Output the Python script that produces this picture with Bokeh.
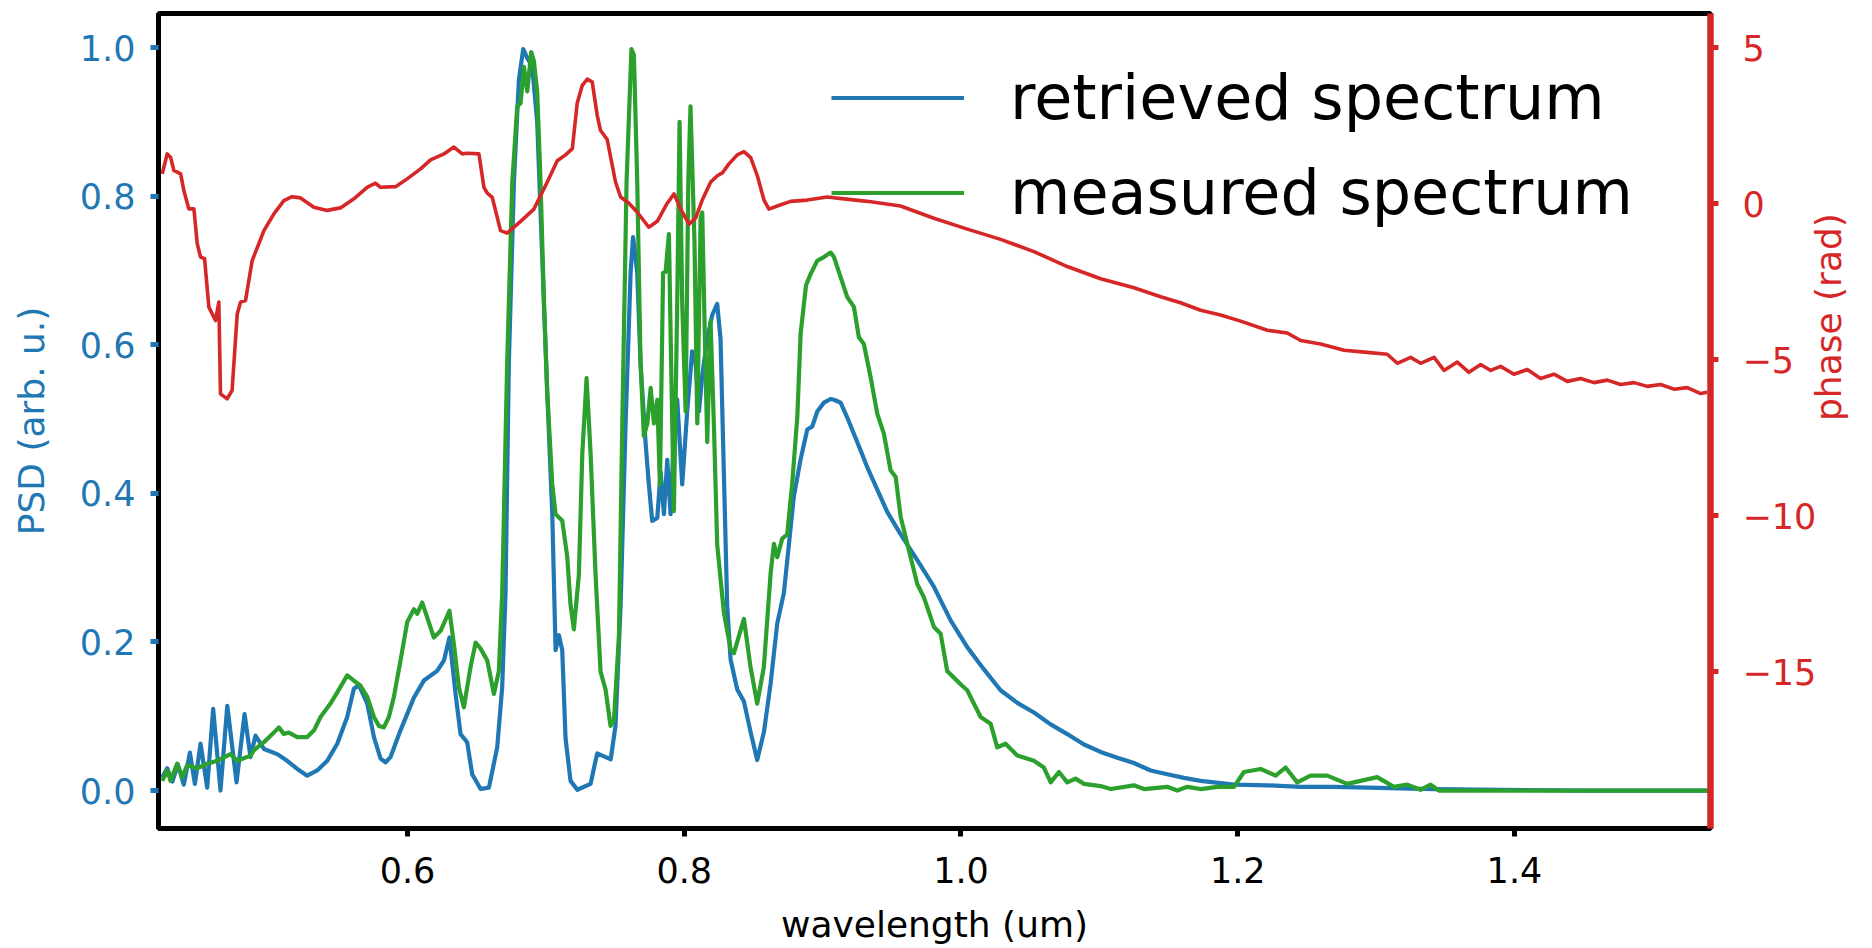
import math
from bokeh.plotting import figure
from bokeh.models import Range1d, LinearAxis, FixedTicker, Legend, LegendItem, PrintfTickFormatter
from bokeh.embed import file_html
from bokeh.resources import INLINE

# ---------------- data ----------------
wl_retrieved = [0.4227, 0.4263, 0.4300, 0.4340, 0.4383, 0.4427, 0.4463, 0.4504, 0.4552, 0.4595,
                0.4648, 0.4697, 0.4764, 0.4822, 0.4865, 0.4901, 0.4962, 0.5058, 0.5130, 0.5203,
                0.5275, 0.5347, 0.5420, 0.5492, 0.5564, 0.5612, 0.5648, 0.5709, 0.5757, 0.5805,
                0.5841, 0.5877, 0.5949, 0.6046, 0.6118, 0.6214, 0.6263, 0.6303, 0.6347, 0.6383,
                0.6431, 0.6467, 0.6528, 0.6588, 0.6648, 0.6684, 0.6708, 0.6732, 0.6769, 0.6805,
                0.6836, 0.6865, 0.6901, 0.6937, 0.6973, 0.7010, 0.7046, 0.7070, 0.7094, 0.7118,
                0.7142, 0.7178, 0.7227, 0.7323, 0.7347, 0.7371, 0.7420, 0.7468, 0.7503, 0.7540,
                0.7576, 0.7612, 0.7630, 0.7660, 0.7684, 0.7720, 0.7744, 0.7768, 0.7805, 0.7829,
                0.7853, 0.7877, 0.7901, 0.7925, 0.7949, 0.7985, 0.8021, 0.8057, 0.8082, 0.8106,
                0.8130, 0.8166, 0.8202, 0.8238, 0.8262, 0.8286, 0.8310, 0.8335, 0.8383, 0.8431,
                0.8479, 0.8527, 0.8576, 0.8624, 0.8672, 0.8720, 0.8756, 0.8792, 0.8840, 0.8889,
                0.8925, 0.8961, 0.9009, 0.9058, 0.9082, 0.9130, 0.9178, 0.9250, 0.9323, 0.9395,
                0.9467, 0.9563, 0.9684, 0.9805, 0.9925, 1.0045, 1.0166, 1.0286, 1.0407, 1.0527,
                1.0648, 1.0768, 1.0889, 1.1009, 1.1130, 1.1250, 1.1371, 1.1491, 1.1611, 1.1732,
                1.1973, 1.2214, 1.2455, 1.2696, 1.2937, 1.3178, 1.3419, 1.3900, 1.4500, 1.5418]
psd_retrieved = [0.018, 0.030, 0.012, 0.035, 0.008, 0.051, 0.009, 0.063, 0.004, 0.110,
                 0.000, 0.114, 0.011, 0.103, 0.045, 0.074, 0.056, 0.049, 0.040, 0.029,
                 0.020, 0.027, 0.040, 0.063, 0.099, 0.137, 0.142, 0.117, 0.072, 0.043,
                 0.038, 0.045, 0.081, 0.125, 0.148, 0.161, 0.175, 0.206, 0.130, 0.076,
                 0.065, 0.022, 0.002, 0.004, 0.058, 0.139, 0.265, 0.575, 0.820, 0.957,
                 0.998, 0.986, 0.974, 0.900, 0.720, 0.534, 0.372, 0.189, 0.209, 0.189,
                 0.070, 0.013, 0.001, 0.009, 0.030, 0.050, 0.046, 0.042, 0.087, 0.250,
                 0.494, 0.697, 0.745, 0.697, 0.575, 0.469, 0.412, 0.363, 0.367, 0.429,
                 0.372, 0.445, 0.372, 0.477, 0.526, 0.412, 0.510, 0.591, 0.575, 0.510,
                 0.559, 0.608, 0.640, 0.655, 0.608, 0.429, 0.250, 0.176, 0.136, 0.120,
                 0.079, 0.041, 0.079, 0.144, 0.225, 0.266, 0.331, 0.396, 0.445, 0.486,
                 0.490, 0.510, 0.522, 0.527, 0.526, 0.522, 0.502, 0.469, 0.435, 0.405,
                 0.375, 0.345, 0.310, 0.274, 0.229, 0.193, 0.163, 0.135, 0.118, 0.105,
                 0.089, 0.076, 0.062, 0.052, 0.044, 0.037, 0.027, 0.022, 0.017, 0.013,
                 0.008, 0.007, 0.005, 0.005, 0.004, 0.003, 0.002, 0.001, 0.000, 0.000]

wl_measured = [0.4227, 0.4263, 0.4287, 0.4335, 0.4371, 0.4407, 0.4480, 0.4552, 0.4624, 0.4720,
               0.4769, 0.4865, 0.4889, 0.4962, 0.5034, 0.5070, 0.5106, 0.5142, 0.5203, 0.5275,
               0.5324, 0.5371, 0.5443, 0.5492, 0.5564, 0.5612, 0.5660, 0.5709, 0.5757, 0.5793,
               0.5829, 0.5865, 0.5901, 0.5949, 0.5998, 0.6046, 0.6070, 0.6106, 0.6142, 0.6190,
               0.6239, 0.6303, 0.6335, 0.6371, 0.6407, 0.6455, 0.6492, 0.6528, 0.6576, 0.6624,
               0.6660, 0.6684, 0.6720, 0.6757, 0.6793, 0.6817, 0.6841, 0.6865, 0.6894, 0.6913,
               0.6937, 0.6961, 0.6986, 0.7010, 0.7046, 0.7070, 0.7118, 0.7154, 0.7178, 0.7202,
               0.7238, 0.7263, 0.7294, 0.7323, 0.7359, 0.7395, 0.7431, 0.7467, 0.7492, 0.7528,
               0.7552, 0.7583, 0.7618, 0.7636, 0.7660, 0.7684, 0.7708, 0.7733, 0.7757, 0.7781,
               0.7805, 0.7824, 0.7847, 0.7865, 0.7889, 0.7905, 0.7925, 0.7949, 0.7966, 0.7985,
               0.8010, 0.8029, 0.8045, 0.8074, 0.8094, 0.8118, 0.8130, 0.8150, 0.8166, 0.8190,
               0.8214, 0.8238, 0.8286, 0.8335, 0.8359, 0.8431, 0.8479, 0.8527, 0.8575, 0.8624,
               0.8648, 0.8672, 0.8708, 0.8744, 0.8780, 0.8817, 0.8841, 0.8880, 0.8913, 0.8961,
               0.9009, 0.9058, 0.9082, 0.9130, 0.9178, 0.9226, 0.9262, 0.9298, 0.9347, 0.9395,
               0.9443, 0.9491, 0.9528, 0.9564, 0.9612, 0.9684, 0.9732, 0.9805, 0.9853, 0.9900,
               0.9997, 1.0045, 1.0142, 1.0214, 1.0262, 1.0322, 1.0407, 1.0527, 1.0599, 1.0648,
               1.0708, 1.0768, 1.0828, 1.0889, 1.1009, 1.1082, 1.1250, 1.1322, 1.1491, 1.1563,
               1.1636, 1.1732, 1.1852, 1.1973, 1.2045, 1.2166, 1.2274, 1.2346, 1.2430, 1.2526,
               1.2647, 1.2792, 1.3008, 1.3129, 1.3225, 1.3321, 1.3394, 1.3454, 1.5418]
psd_measured = [0.013, 0.027, 0.013, 0.036, 0.018, 0.034, 0.030, 0.036, 0.040, 0.049,
                0.040, 0.047, 0.054, 0.065, 0.078, 0.085, 0.076, 0.078, 0.072, 0.072,
                0.081, 0.099, 0.117, 0.132, 0.155, 0.148, 0.141, 0.126, 0.099, 0.087,
                0.085, 0.099, 0.126, 0.175, 0.227, 0.244, 0.238, 0.253, 0.233, 0.206,
                0.215, 0.242, 0.197, 0.139, 0.112, 0.166, 0.199, 0.191, 0.175, 0.130,
                0.161, 0.265, 0.575, 0.819, 0.921, 0.925, 0.974, 0.941, 0.994, 0.982,
                0.941, 0.820, 0.656, 0.534, 0.412, 0.372, 0.363, 0.315, 0.250, 0.217,
                0.290, 0.453, 0.555, 0.453, 0.290, 0.160, 0.136, 0.087, 0.095, 0.209,
                0.494, 0.820, 0.998, 0.990, 0.820, 0.575, 0.477, 0.494, 0.542, 0.494,
                0.526, 0.412, 0.697, 0.698, 0.749, 0.575, 0.376, 0.656, 0.900, 0.656,
                0.510, 0.820, 0.921, 0.738, 0.494, 0.770, 0.778, 0.600, 0.469, 0.632,
                0.493, 0.331, 0.240, 0.190, 0.185, 0.231, 0.166, 0.117, 0.166, 0.292,
                0.332, 0.314, 0.339, 0.345, 0.413, 0.503, 0.615, 0.680, 0.695, 0.713,
                0.718, 0.724, 0.718, 0.691, 0.664, 0.651, 0.610, 0.601, 0.556, 0.507,
                0.480, 0.431, 0.422, 0.368, 0.332, 0.278, 0.260, 0.220, 0.211, 0.161,
                0.143, 0.135, 0.099, 0.090, 0.058, 0.063, 0.047, 0.040, 0.031, 0.011,
                0.025, 0.011, 0.016, 0.009, 0.006, 0.002, 0.007, 0.002, 0.005, 0.000,
                0.005, 0.002, 0.005, 0.005, 0.025, 0.029, 0.020, 0.031, 0.011, 0.020,
                0.020, 0.009, 0.018, 0.005, 0.008, 0.001, 0.008, 0.000, 0.000]

wl_phase = [0.4227, 0.4263, 0.4287, 0.4311, 0.4360, 0.4383, 0.4419, 0.4456, 0.4480, 0.4504,
            0.4533, 0.4564, 0.4612, 0.4636, 0.4648, 0.4696, 0.4732, 0.4769, 0.4793, 0.4829,
            0.4877, 0.4962, 0.5034, 0.5106, 0.5166, 0.5226, 0.5323, 0.5419, 0.5515, 0.5612,
            0.5708, 0.5768, 0.5805, 0.5913, 0.5997, 0.6094, 0.6166, 0.6263, 0.6335, 0.6395,
            0.6431, 0.6516, 0.6552, 0.6576, 0.6612, 0.6672, 0.6720, 0.6817, 0.6913, 0.7010,
            0.7082, 0.7142, 0.7191, 0.7226, 0.7263, 0.7299, 0.7335, 0.7371, 0.7395, 0.7443,
            0.7503, 0.7540, 0.7600, 0.7660, 0.7744, 0.7805, 0.7877, 0.7926, 0.7974, 0.8034,
            0.8082, 0.8130, 0.8191, 0.8239, 0.8275, 0.8323, 0.8383, 0.8431, 0.8480, 0.8528,
            0.8576, 0.8612, 0.8672, 0.8768, 0.8889, 0.9033, 0.9154, 0.9323, 0.9563, 0.9804,
            1.0046, 1.0286, 1.0527, 1.0768, 1.1009, 1.1250, 1.1443, 1.1587, 1.1732, 1.1876,
            1.2021, 1.2214, 1.2358, 1.2455, 1.2599, 1.2768, 1.2936, 1.3081, 1.3153, 1.3250,
            1.3322, 1.3419, 1.3491, 1.3587, 1.3671, 1.3756, 1.3828, 1.3900, 1.3996, 1.4093,
            1.4189, 1.4286, 1.4382, 1.4478, 1.4575, 1.4671, 1.4767, 1.4864, 1.4960, 1.5056,
            1.5153, 1.5249, 1.5346, 1.5394]
phase = [0.95, 1.59, 1.485, 1.06, 0.95, 0.42, -0.17, -0.17, -1.29, -1.72,
         -1.77, -3.32, -3.75, -3.16, -6.10, -6.26, -5.99, -3.54, -3.16, -3.11,
         -1.83, -0.87, -0.33, 0.09, 0.22, 0.18, -0.12, -0.22, -0.14, 0.15,
         0.52, 0.65, 0.52, 0.54, 0.79, 1.11, 1.40, 1.59, 1.81, 1.59,
         1.61, 1.59, 0.52, 0.33, 0.20, -0.87, -0.95, -0.57, -0.18, 0.69,
         1.37, 1.56, 1.76, 3.21, 3.79, 3.99, 3.89, 2.82, 2.34, 2.05,
         0.69, 0.21, 0.01, -0.28, -0.76, -0.57, 0.01, 0.31, -0.18, -0.66,
         -0.47, 0.11, 0.69, 0.89, 0.98, 1.27, 1.56, 1.66, 1.47, 0.89,
         0.11, -0.18, -0.08, 0.07, 0.11, 0.21, 0.15, 0.07, -0.08, -0.47,
         -0.82, -1.15, -1.54, -2.02, -2.41, -2.70, -2.99, -3.18, -3.42, -3.57,
         -3.77, -4.06, -4.15, -4.39, -4.50, -4.70, -4.77, -4.83, -5.12, -4.93,
         -5.12, -4.93, -5.35, -5.08, -5.41, -5.16, -5.35, -5.22, -5.47, -5.32,
         -5.61, -5.47, -5.70, -5.61, -5.74, -5.66, -5.80, -5.74, -5.86, -5.80,
         -5.95, -5.90, -6.09, -6.05]

x_ticks = [0.6, 0.8, 1.0, 1.2, 1.4]
psd_ticks = [0.0, 0.2, 0.4, 0.6, 0.8, 1.0]
phase_ticks = [5, 0, -5, -10, -15]
phase_tick_labels = {5: "5", 0: "0", -5: "\u22125", -10: "\u221210", -15: "\u221215"}

BLUE = "#1f77b4"
GREEN = "#2ca02c"
RED = "#d62728"
FONT = "DejaVu Sans"

# ---------------- figure ----------------
p = figure(width=1872, height=948, output_backend="svg", toolbar_location=None,
           x_range=Range1d(0.4200, 1.5417), y_range=Range1d(-0.0511, 1.0458),
           min_border_left=158, min_border_right=162, min_border_top=13, min_border_bottom=120)
p.extra_y_ranges = {"phase": Range1d(-20.03, 6.09)}
p.background_fill_color = "white"
p.border_fill_color = "white"
p.outline_line_color = "black"
p.outline_line_width = 5
p.xgrid.visible = False
p.ygrid.visible = False

rb = p.line(wl_retrieved, psd_retrieved, line_color=BLUE, line_width=4.2, line_join="round")
rg = p.line(wl_measured, psd_measured, line_color=GREEN, line_width=4.2, line_join="round")
p.line(wl_phase, phase, line_color=RED, line_width=3.6, line_join="round", y_range_name="phase")

# bottom axis
xa = p.xaxis[0]
xa.ticker = FixedTicker(ticks=x_ticks)
xa.formatter = PrintfTickFormatter(format="%.1f")
xa.axis_label = "wavelength (um)"
xa.axis_label_text_font = FONT
xa.axis_label_text_font_size = "36px"
xa.axis_label_text_font_style = "normal"
xa.axis_label_text_color = "black"
xa.axis_label_standoff = 18
xa.major_label_text_font = FONT
xa.major_label_text_font_size = "35px"
xa.major_label_text_color = "black"
xa.major_label_standoff = 20
xa.axis_line_color = "black"
xa.axis_line_width = 5
xa.major_tick_line_color = "black"
xa.major_tick_line_width = 5
xa.major_tick_out = 8
xa.major_tick_in = 0
xa.minor_tick_line_color = None

# left axis
ya = p.yaxis[0]
ya.ticker = FixedTicker(ticks=psd_ticks)
ya.formatter = PrintfTickFormatter(format="%.1f")
ya.axis_label = "PSD (arb. u.)"
ya.axis_label_text_font = FONT
ya.axis_label_text_font_size = "36px"
ya.axis_label_text_font_style = "normal"
ya.axis_label_text_color = BLUE
ya.axis_label_standoff = 25
ya.major_label_text_font = FONT
ya.major_label_text_font_size = "35px"
ya.major_label_text_color = BLUE
ya.major_label_standoff = 15
ya.axis_line_color = "black"
ya.axis_line_width = 5
ya.major_tick_line_color = BLUE
ya.major_tick_line_width = 5
ya.major_tick_out = 8
ya.major_tick_in = 0
ya.minor_tick_line_color = None

# right (phase) axis
ra = LinearAxis(y_range_name="phase", ticker=FixedTicker(ticks=phase_ticks),
                major_label_overrides=phase_tick_labels)
ra.axis_label = "phase (rad)"
ra.axis_label_text_font = FONT
ra.axis_label_text_font_size = "36px"
ra.axis_label_text_font_style = "normal"
ra.axis_label_text_color = RED
ra.axis_label_text_baseline = "top"
ra.axis_label_standoff = 9
try:
    ra.axis_label_orientation = math.pi / 2
except Exception:
    pass
ra.major_label_text_font = FONT
ra.major_label_text_font_size = "35px"
ra.major_label_text_color = RED
ra.major_label_standoff = 24
ra.axis_line_color = RED
ra.axis_line_width = 6.5
ra.major_tick_line_color = RED
ra.major_tick_line_width = 5
ra.major_tick_out = 8
ra.major_tick_in = 0
ra.minor_tick_line_color = None
p.add_layout(ra, "right")

# legend
legend = Legend(items=[LegendItem(label="retrieved spectrum", renderers=[rb]),
                       LegendItem(label="measured spectrum", renderers=[rg])],
                location=(673, 588))
legend.label_text_font = FONT
legend.label_text_font_size = "62px"
legend.label_text_color = "black"
legend.glyph_width = 133
legend.glyph_height = 95
legend.label_height = 95
legend.label_standoff = 46
legend.spacing = 0
legend.padding = 0
legend.margin = 0
legend.border_line_alpha = 0
legend.background_fill_alpha = 0
p.add_layout(legend)

open("out.html", "w").write(file_html(p, INLINE))
